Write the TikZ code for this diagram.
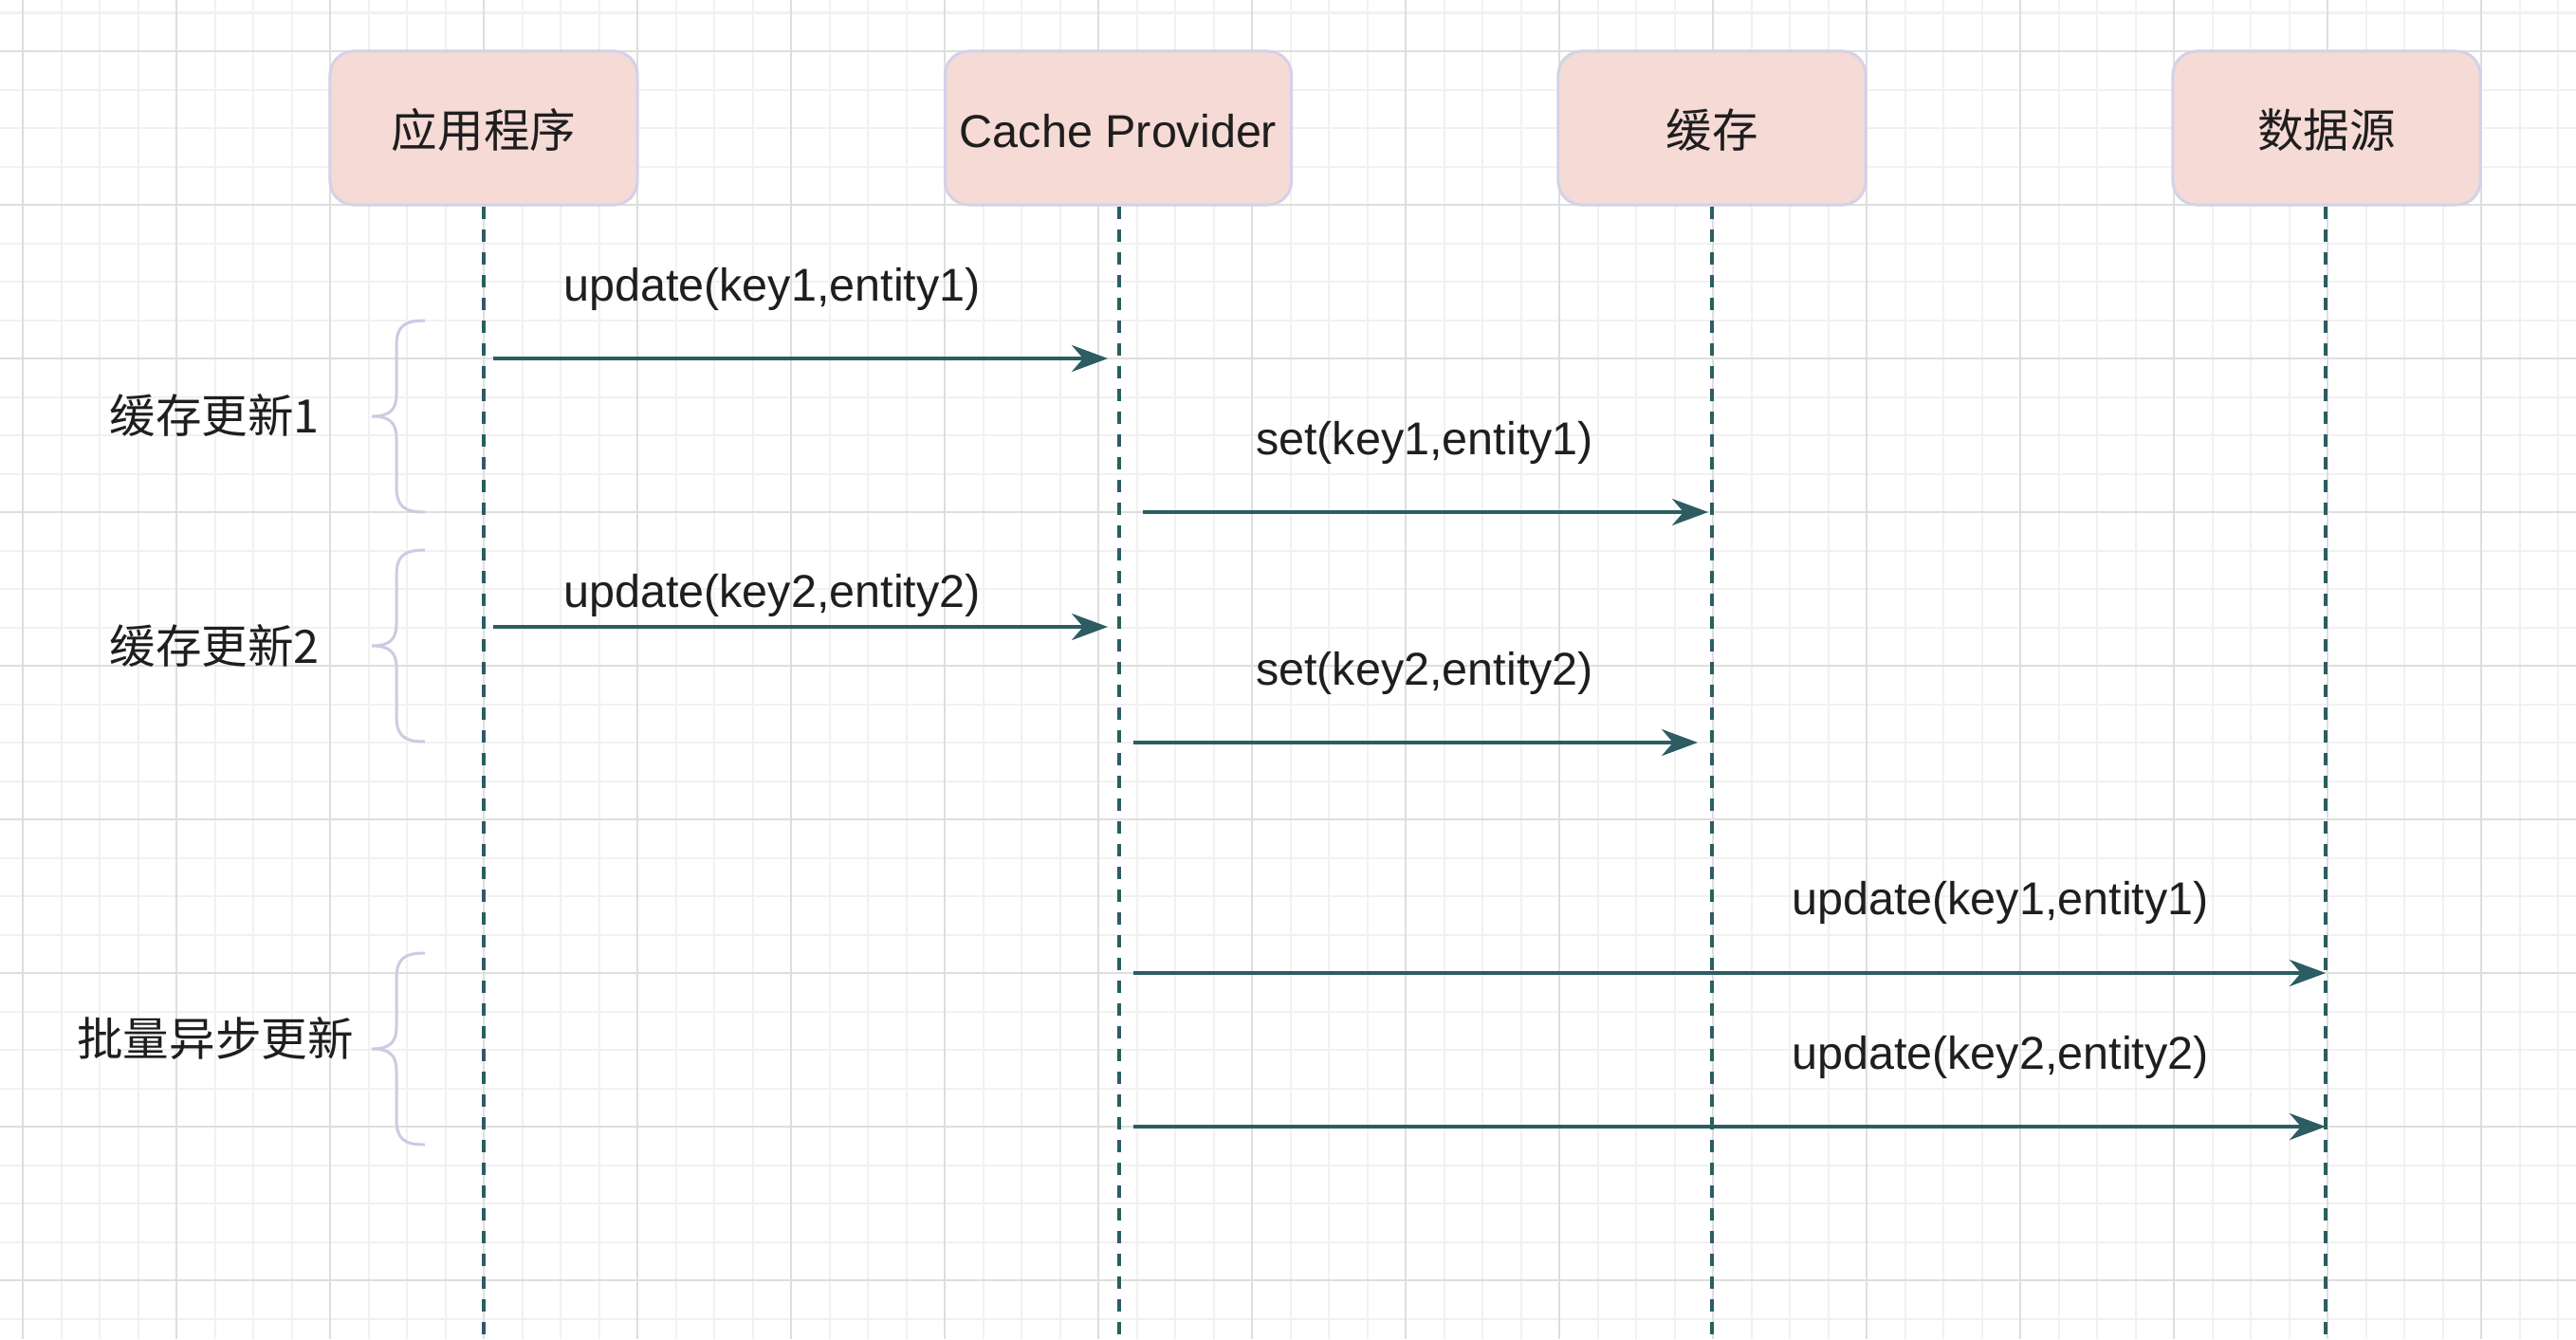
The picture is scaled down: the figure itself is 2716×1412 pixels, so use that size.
\documentclass[tikz,border=0pt]{standalone}
\usepackage{fontspec}
\setmainfont{Liberation Sans}
\newfontfamily\cjk{Noto Sans CJK SC}
\usetikzlibrary{arrows.meta}
\definecolor{gridminor}{HTML}{F1F1F1}
\definecolor{gridmajor}{HTML}{DEDEDE}
\definecolor{boxfill}{HTML}{F5DAD6}
\definecolor{boxline}{HTML}{D2D2E8}
\definecolor{seqline}{HTML}{2B5D62}
\definecolor{bracecol}{HTML}{CBCBE3}
\definecolor{txtcol}{HTML}{1E1E1E}
\newcommand\myfs{\fontsize{13.8pt}{16pt}\selectfont}
\tikzset{
  actor/.style={draw=boxline, line width=0.03cm, fill=boxfill, rounded corners=0.25cm,
    minimum width=3.24cm, minimum height=1.62cm, inner sep=0pt, font=\myfs, text=txtcol,
    text height=0.4cm, text depth=0cm},
  lifeline/.style={draw=seqline, line width=0.042cm, dash pattern=on 0.13cm off 0.11cm},
  msg/.style={draw=seqline, line width=0.04cm,
    -{Stealth[length=0.38cm, width=0.28cm, inset=0.12cm]}},
  lbl/.style={font=\myfs, text=txtcol, inner sep=0pt},
  bracestyle/.style={draw=bracecol, line width=0.03cm},
  curly/.pic={\draw[bracestyle] (0,0) .. controls (-22,0) and (-30,6) .. (-30,27)
     -- (-30,78) .. controls (-30,95) and (-38,101) .. (-56,101)
     .. controls (-38,101) and (-30,107) .. (-30,124)
     -- (-30,175) .. controls (-30,196) and (-22,202) .. (0,202);}
}
\begin{document}
\begin{tikzpicture}[x=0.01cm, y=-0.01cm]
\useasboundingbox (0,0) rectangle (2716,1412);
\fill[white] (0,0) rectangle (2716,1412);
% grid
\foreach \i in {0,...,66} \draw[gridminor, line width=0.02cm] ({24+40.5*\i},0) -- ({24+40.5*\i},1412);
\foreach \j in {0,...,34} \draw[gridminor, line width=0.02cm] (0,{13.5+40.5*\j}) -- (2716,{13.5+40.5*\j});
\foreach \i in {0,...,16} \draw[gridmajor, line width=0.025cm] ({24+162*\i},0) -- ({24+162*\i},1412);
\foreach \j in {0,...,8} \draw[gridmajor, line width=0.025cm] (0,{54+162*\j}) -- (2716,{54+162*\j});

% actors
\node[actor] (app) at (510,135) {\cjk 应用程序};
\node[actor, minimum width=3.65cm] (cp) at (1179,135) {Cache Provider};
\node[actor] (cache) at (1805,135) {\cjk 缓存};
\node[actor] (ds) at (2453,135) {\cjk 数据源};

% lifeline ends
\coordinate (appE) at (510,1412);
\coordinate (cpE) at (1180,1412);
\coordinate (cacheE) at (1805,1412);
\coordinate (dsE) at (2452,1412);
\draw[lifeline] (app.south) -- (appE);
\draw[lifeline] (cp.south) ++(1,0) -- (cpE);
\draw[lifeline] (cache.south) -- (cacheE);
\draw[lifeline] (ds.south) ++(-1,0) -- (dsE);

% message end points
\coordinate (m1s) at (520,378);  \coordinate (m1e) at (1168,378);
\coordinate (m2s) at (1205,540); \coordinate (m2e) at (1801,540);
\coordinate (m3s) at (520,661);  \coordinate (m3e) at (1168,661);
\coordinate (m4s) at (1195,783); \coordinate (m4e) at (1790,783);
\coordinate (m5s) at (1195,1026); \coordinate (m5e) at (2452,1026);
\coordinate (m6s) at (1195,1188); \coordinate (m6e) at (2452,1188);

\draw[msg] (m1s) -- (m1e);
\draw[msg] (m2s) -- (m2e);
\draw[msg] (m3s) -- (m3e);
\draw[msg] (m4s) -- (m4e);
\draw[msg] (m5s) -- (m5e);
\draw[msg] (m6s) -- (m6e);

% message labels
\node[lbl] (t1) at (814,305) {update(key1,entity1)};
\node[lbl] (t2) at (1502,467) {set(key1,entity1)};
\node[lbl] (t3) at (814,628) {update(key2,entity2)};
\node[lbl] (t4) at (1502,710) {set(key2,entity2)};
\node[lbl] (t5) at (2109,952) {update(key1,entity1)};
\node[lbl] (t6) at (2109,1115) {update(key2,entity2)};

% braces and group labels
\pic at (448,338) {curly};
\pic at (448,580) {curly};
\pic at (448,1005) {curly};
\node[lbl] (g1) at (226,438) {\cjk 缓存更新1};
\node[lbl] (g2) at (226,681) {\cjk 缓存更新2};
\node[lbl] (g3) at (227,1095) {\cjk 批量异步更新};
\end{tikzpicture}
\end{document}
